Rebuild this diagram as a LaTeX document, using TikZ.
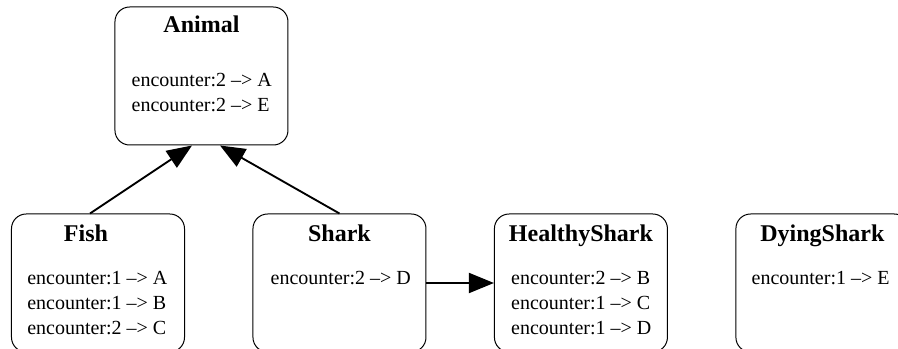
\documentclass[tikz,border=0pt]{standalone}
\usepackage{fontspec}
\setmainfont{Liberation Serif}
\usetikzlibrary{positioning, arrows.meta}
\tikzset{
    classbox/.style={draw, rounded corners=11pt, line width=0.75pt, minimum width=129.75pt, minimum height=103.5pt, inner sep=0pt}, % one class
    classname/.style={anchor=base, inner sep=0pt, font=\fontsize{18}{21}\selectfont\bfseries},
    entries/.style={anchor=base west, inner sep=0pt, font=\fontsize{15}{18.75}\selectfont},
    link/.style={line width=1.4pt, -{Triangle[length=18.75pt, width=15pt]}}, % makes the edges directed
}

\begin{document}
\begin{tikzpicture}[on grid, node distance=181.1pt]
    \clip (-73.5pt,-49.5pt) rectangle (600pt,212.25pt);

    % Classi
    \node[classbox] (fish) at (0,0) {};
    \node[classbox] (shark) [right=of fish] {};
    \node[classbox] (healthy) [right=of shark] {};
    \node[classbox] (dying) [right=of healthy] {};
    \node[classbox] (animal) [above right=155.25pt and 77.6pt of fish] {};

    % Nomi
    \node[classname] (animalname) at ([yshift=-19.5pt]animal.north) {Animal};
    \node[classname] (fishname) at ([shift={(-9pt,-21pt)}]fish.north) {Fish};
    \node[classname] (sharkname) at ([yshift=-21pt]shark.north) {Shark};
    \node[classname] (healthyname) at ([yshift=-21pt]healthy.north) {HealthyShark};
    \node[classname] (dyingname) at ([yshift=-21pt]dying.north) {DyingShark};

    % Regole
    \node[entries] (animallist) at ([shift={(12.75pt,-60pt)}]animal.north west)
        {\begin{tabular}[t]{@{}l@{}}encounter:2 --> A\\ encounter:2 --> E\end{tabular}};
    \node[entries] (fishlist) at ([shift={(12pt,-53.25pt)}]fish.north west)
        {\begin{tabular}[t]{@{}l@{}}encounter:1 --> A\\ encounter:1 --> B\\ encounter:2 --> C\end{tabular}};
    \node[entries] (sharklist) at ([shift={(13.5pt,-53.25pt)}]shark.north west)
        {\begin{tabular}[t]{@{}l@{}}encounter:2 --> D\end{tabular}};
    \node[entries] (healthylist) at ([shift={(12.75pt,-53.25pt)}]healthy.north west)
        {\begin{tabular}[t]{@{}l@{}}encounter:2 --> B\\ encounter:1 --> C\\ encounter:1 --> D\end{tabular}};
    \node[entries] (dyinglist) at ([shift={(12pt,-53.25pt)}]dying.north west)
        {\begin{tabular}[t]{@{}l@{}}encounter:1 --> E\end{tabular}};

    % Transizioni
    \draw[link] ([xshift=-6pt]fish.north) -- ([xshift=-7.1pt]animal.south);
    \draw[link] (shark.north) -- ([xshift=13.9pt]animal.south);
    \draw[link] (shark.east) -- (healthy.west);
\end{tikzpicture}
\end{document}
